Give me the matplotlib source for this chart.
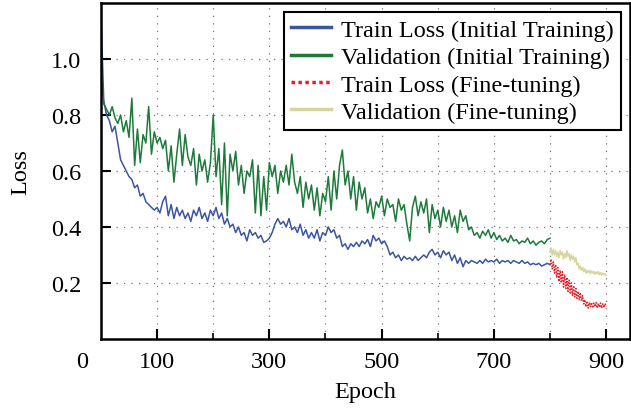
import matplotlib
matplotlib.use("Agg")
import matplotlib.pyplot as plt
from matplotlib.ticker import FixedLocator

# ---- data ----
epochs_init = list(range(0, 801, 5))
train_init = [
    1.16, 0.85, 0.80, 0.78, 0.74, 0.76, 0.70, 0.64, 0.62, 0.60,
    0.58, 0.57, 0.54, 0.55, 0.51, 0.52, 0.49, 0.48, 0.47, 0.46,
    0.47, 0.45, 0.49, 0.51, 0.44, 0.48, 0.43, 0.47, 0.44, 0.46,
    0.43, 0.45, 0.42, 0.46, 0.44, 0.47, 0.43, 0.45, 0.42, 0.46,
    0.44, 0.47, 0.43, 0.45, 0.41, 0.43, 0.40, 0.41, 0.38, 0.40,
    0.37, 0.38, 0.35, 0.39, 0.37, 0.38, 0.36, 0.37, 0.345, 0.35,
    0.36, 0.38, 0.41, 0.43, 0.41, 0.42, 0.40, 0.43, 0.39, 0.40,
    0.38, 0.41, 0.37, 0.39, 0.36, 0.38, 0.36, 0.39, 0.35, 0.38,
    0.37, 0.40, 0.38, 0.39, 0.36, 0.37, 0.33, 0.34, 0.32, 0.34,
    0.33, 0.345, 0.33, 0.35, 0.34, 0.355, 0.33, 0.37, 0.35, 0.36,
    0.34, 0.35, 0.33, 0.30, 0.31, 0.29, 0.30, 0.28, 0.295, 0.285,
    0.29, 0.28, 0.295, 0.28, 0.29, 0.30, 0.29, 0.31, 0.32, 0.30,
    0.31, 0.29, 0.315, 0.30, 0.31, 0.28, 0.30, 0.27, 0.29, 0.258,
    0.28, 0.27, 0.28, 0.275, 0.27, 0.28, 0.27, 0.285, 0.275, 0.28,
    0.275, 0.285, 0.27, 0.28, 0.275, 0.28, 0.27, 0.28, 0.275, 0.27,
    0.28, 0.27, 0.275, 0.265, 0.27, 0.265, 0.27, 0.26, 0.265, 0.27,
    0.265,
]
val_init = [
    0.95, 0.84, 0.82, 0.80, 0.83, 0.79, 0.77, 0.80, 0.74, 0.78,
    0.72, 0.86, 0.62, 0.75, 0.63, 0.73, 0.70, 0.83, 0.66, 0.74,
    0.70, 0.72, 0.68, 0.71, 0.60, 0.69, 0.56, 0.66, 0.75, 0.62,
    0.73, 0.65, 0.62, 0.68, 0.55, 0.66, 0.60, 0.64, 0.56, 0.63,
    0.80, 0.58, 0.68, 0.48, 0.70, 0.44, 0.66, 0.60, 0.67, 0.55,
    0.62, 0.52, 0.60, 0.58, 0.64, 0.45, 0.62, 0.44, 0.58, 0.46,
    0.63, 0.58, 0.62, 0.52, 0.60, 0.56, 0.62, 0.55, 0.66, 0.56,
    0.52, 0.58, 0.47, 0.56, 0.50, 0.55, 0.46, 0.54, 0.44, 0.52,
    0.49, 0.58, 0.46, 0.60, 0.50, 0.62, 0.675, 0.55, 0.60, 0.50,
    0.58, 0.46, 0.56, 0.50, 0.54, 0.45, 0.50, 0.43, 0.49, 0.47,
    0.51, 0.44, 0.50, 0.47, 0.48, 0.42, 0.50, 0.46, 0.48, 0.41,
    0.35, 0.47, 0.51, 0.44, 0.49, 0.45, 0.50, 0.38, 0.48, 0.43,
    0.46, 0.40, 0.47, 0.42, 0.46, 0.40, 0.44, 0.38, 0.46, 0.42,
    0.44, 0.39, 0.40, 0.37, 0.38, 0.36, 0.385, 0.37, 0.39, 0.36,
    0.38, 0.355, 0.37, 0.35, 0.36, 0.345, 0.37, 0.35, 0.355, 0.34,
    0.35, 0.345, 0.36, 0.34, 0.35, 0.335, 0.345, 0.35, 0.34, 0.355,
    0.36,
]
epochs_ft = list(range(800, 901, 2))
train_ft = [
    0.265, 0.285, 0.25, 0.275, 0.235, 0.265, 0.22, 0.255, 0.205, 0.245,
    0.20, 0.24, 0.185, 0.23, 0.18, 0.22, 0.17, 0.21, 0.16, 0.20,
    0.155, 0.19, 0.15, 0.18, 0.145, 0.17, 0.14, 0.165, 0.135, 0.155,
    0.125, 0.14, 0.115, 0.135, 0.11, 0.13, 0.115, 0.13, 0.11, 0.128,
    0.115, 0.13, 0.11, 0.127, 0.113, 0.128, 0.11, 0.125, 0.112, 0.126,
    0.115,
]
val_ft = [
    0.31, 0.325, 0.30, 0.32, 0.30, 0.315, 0.295, 0.31, 0.29, 0.315,
    0.30, 0.31, 0.285, 0.305, 0.29, 0.315, 0.295, 0.305, 0.28, 0.30,
    0.285, 0.295, 0.275, 0.29, 0.265, 0.27, 0.25, 0.26, 0.245, 0.255,
    0.24, 0.25, 0.235, 0.245, 0.237, 0.245, 0.233, 0.243, 0.235, 0.241,
    0.231, 0.239, 0.233, 0.241, 0.229, 0.237, 0.227, 0.235, 0.229, 0.233,
    0.227,
]
labels = ["Train Loss (Initial Training)", "Validation (Initial Training)",
          "Train Loss (Fine-tuning)", "Validation (Fine-tuning)"]
x_major = [100, 300, 500, 700, 900]
x_minor = [200, 400, 600, 800]
y_ticks = [0.2, 0.4, 0.6, 0.8, 1.0]

plt.rcParams['font.family'] = ['Liberation Serif', 'DejaVu Serif']

fig = plt.figure(figsize=(6.31, 4.10), dpi=100)
ax = fig.add_axes([0.160, 0.171, 0.838, 0.819])

ax.plot(epochs_init, train_init, color='#3b55a3', lw=1.1, label=labels[0])
ax.plot(epochs_init, val_init, color='#1d7a3a', lw=1.1, label=labels[1])
ax.plot(epochs_ft, train_ft, color='#e8202a', lw=1.1, ls=(0, (1, 1)), label=labels[2])
ax.plot(epochs_ft, val_ft, color='#d6d69c', lw=1.1, label=labels[3])

ax.set_xlim(0, 942)
ax.set_ylim(0, 1.2)
ax.xaxis.set_major_locator(FixedLocator(x_major))
ax.xaxis.set_minor_locator(FixedLocator(x_minor))
ax.set_yticks(y_ticks)
ax.set_yticklabels([f"{v:.1f}" for v in y_ticks])
ax.tick_params(axis='both', which='major', direction='in', length=7, width=1.5,
               labelsize=17.5)
ax.tick_params(axis='y', which='major', pad=14)
ax.tick_params(axis='x', which='major', pad=9)
ax.tick_params(axis='x', which='minor', direction='in', length=4, width=1.2)
ax.grid(True, which='both', axis='x', color='#777777', lw=0.9, ls=(0, (1, 5)))
ax.grid(True, which='major', axis='y', color='#777777', lw=0.9, ls=(0, (1, 5)))
for s in ax.spines.values():
    s.set_linewidth(1.8)

ax.set_xlabel("Epoch", fontsize=17.5, labelpad=6)
ax.set_ylabel("Loss", fontsize=17.5, labelpad=14)
fig.text(82 / 631, 1 - 363 / 410, "0", fontsize=17.5, ha='center', va='center')

leg = ax.legend(loc='upper right', fontsize=17.5, frameon=True, fancybox=False,
                edgecolor='black', framealpha=1, handlelength=1.65,
                handletextpad=0.4, labelspacing=0.22, borderpad=0.3,
                borderaxespad=0.35)
leg.get_frame().set_linewidth(1.5)
for h in leg.get_lines():
    h.set_linewidth(2.5)

fig.savefig("out.png", dpi=100)
